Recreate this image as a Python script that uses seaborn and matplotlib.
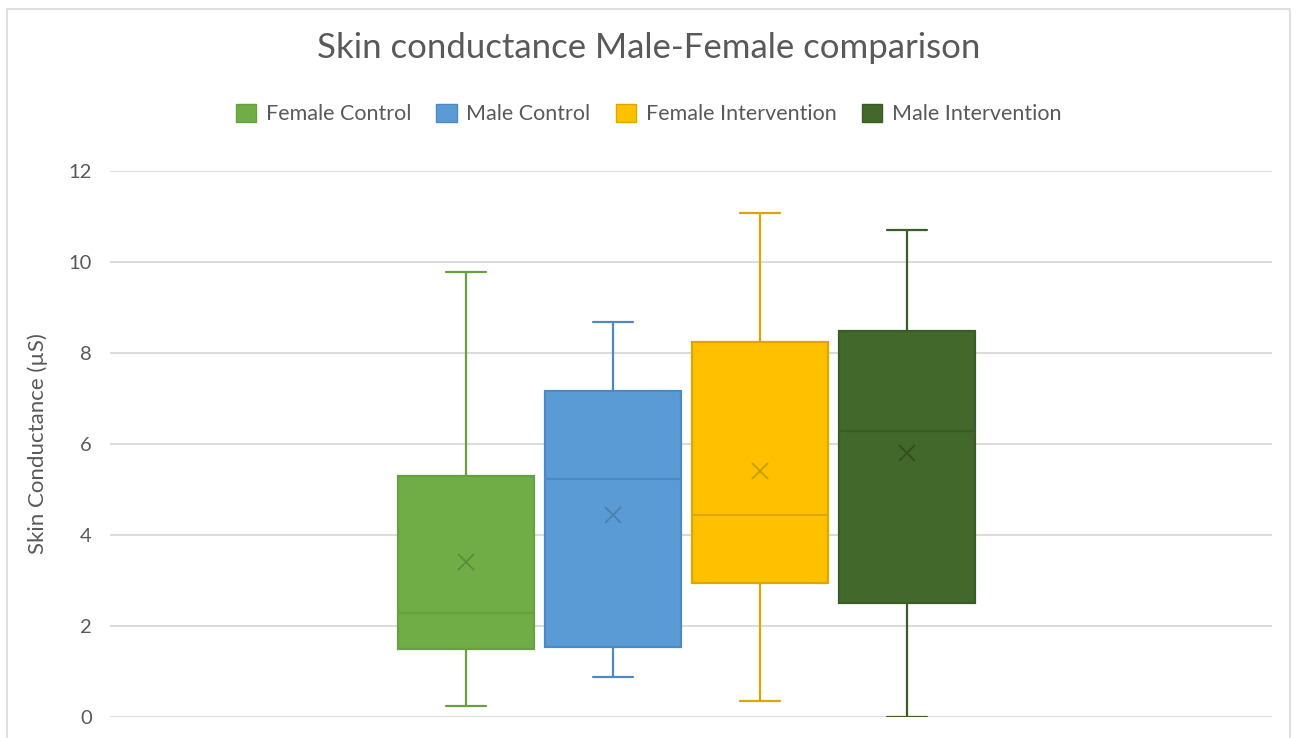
import pandas as pd
import seaborn as sns
import matplotlib.pyplot as plt
from matplotlib.patches import Patch, Rectangle

# Box-and-whisker summary (µS)
groups = ['Female Control', 'Male Control', 'Female Intervention', 'Male Intervention']
whisker_low = [0.24, 0.87, 0.35, 0.0]
q1 = [1.49, 1.53, 2.94, 2.50]
median = [2.29, 5.22, 4.45, 6.29]
q3 = [5.30, 7.16, 8.24, 8.48]
whisker_high = [9.77, 8.69, 11.08, 10.70]
means = [3.40, 4.44, 5.41, 5.80]

fills = ['#70AD47', '#5B9BD5', '#FFC000', '#43682B']
edges = ['#66A03F', '#4F89C2', '#DBA700', '#3B5C26']
mean_colors = ['#5E8E3B', '#4C80B4', '#C9A000', '#33501F']

# five values per group -> quartiles with linear interpolation hit the summary exactly
rows = []
for i, g in enumerate(groups):
    for v in (whisker_low[i], q1[i], median[i], q3[i], whisker_high[i]):
        rows.append({'group': g, 'value': v})
df = pd.DataFrame(rows)

sns.set_theme(style='white')
plt.rcParams['font.family'] = ['Lato', 'DejaVu Sans']
text_color = '#595959'
grid_color = '#D9D9D9'

fig = plt.figure(figsize=(12.97, 7.38), dpi=100)
fig.patches.append(Rectangle((7 / 1297, -0.05), 1283 / 1297, 1.05 - 9 / 738,
                             transform=fig.transFigure, fill=False,
                             edgecolor=grid_color, linewidth=1.2))
ax = fig.add_axes([110 / 1297, 1 - 717 / 738, 1162 / 1297, 546 / 738])

for i, g in enumerate(groups):
    sns.boxplot(data=df[df['group'] == g], x='group', y='value', order=groups,
                color=fills[i], linecolor=edges[i], saturation=1, width=0.925,
                whis=(0, 100), linewidth=1.6, capwidths=0.27, ax=ax, zorder=3)

sns.pointplot(x=groups, y=means, hue=groups, order=groups, hue_order=groups,
              palette=mean_colors, markers='x', linestyles='none', errorbar=None,
              markersize=11, markeredgewidth=1.4, legend=False, ax=ax, zorder=5)

ax.set_xlim(-2.42, 5.48)
ax.set_ylim(0, 12)
ax.set_yticks(range(0, 13, 2))
ax.set_xticks([])
ax.set_xlabel('')
ax.set_ylabel('Skin Conductance (µS)', fontsize=16, color=text_color, labelpad=15)
ax.tick_params(axis='y', labelsize=14.5, colors=text_color, length=0, pad=13)
ax.grid(axis='y', color=grid_color, linewidth=1.3, zorder=0)
ax.set_axisbelow(True)
for s in ax.spines.values():
    s.set_visible(False)

fig.text(0.5, 1 - 48 / 738, 'Skin conductance Male-Female comparison',
         ha='center', va='center', fontsize=25, color=text_color)

handles = [Patch(facecolor=fills[i], edgecolor=edges[i], label=g) for i, g in enumerate(groups)]
fig.legend(handles=handles, loc='center', bbox_to_anchor=(0.5, 1 - 114 / 738), ncol=4,
           frameon=False, fontsize=15.5, labelcolor=text_color, handlelength=0.95,
           handleheight=0.95, handletextpad=0.45, columnspacing=1.17)

plt.savefig('out.png', dpi=100)
